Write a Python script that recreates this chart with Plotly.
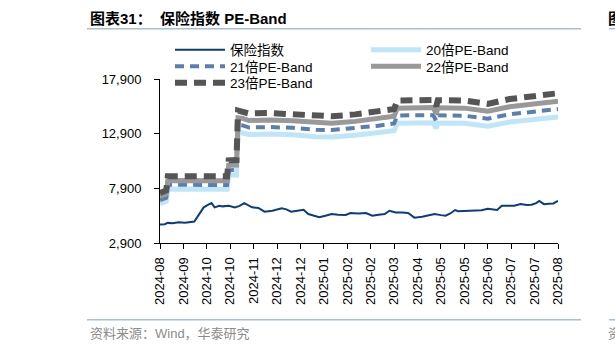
import plotly.graph_objects as go

# ---- data ----
TICK_LABELS = ["2024-08", "2024-09", "2024-10", "2024-10", "2024-11", "2024-12",
               "2024-12", "2025-01", "2025-02", "2025-02", "2025-03", "2025-04",
               "2025-05", "2025-05", "2025-06", "2025-07", "2025-07", "2025-08"]
TICK_POS = [0, 15, 30, 45, 60, 75, 90, 105, 120, 135, 150, 165, 180, 195, 210, 225, 240, 255]

BAND_X = [0, 4, 5, 20, 35, 43, 44, 49, 50, 53, 57, 70, 85, 100, 110, 125, 140, 150, 152,
          160, 175, 177, 178, 195, 210, 224, 240, 255]
PE20 = [6500, 6700, 7830, 7850, 7800, 7820, 9100, 9120, 13050, 13000, 12820, 12860, 12800,
        12620, 12600, 12750, 12980, 13180, 13850, 13890, 13900, 13400, 13880, 13850, 13590,
        13970, 14200, 14430]
PE21 = [6825, 7035, 8222, 8243, 8190, 8211, 9555, 9576, 13703, 13650, 13461, 13503, 13440,
        13251, 13230, 13388, 13629, 13839, 14543, 14585, 14595, 14070, 14574, 14543, 14270,
        14669, 14910, 15152]
PE22 = [7150, 7370, 8613, 8635, 8580, 8602, 10010, 10032, 14355, 14300, 14102, 14146, 14080,
        13882, 13860, 14025, 14278, 14498, 15235, 15279, 15290, 14740, 15268, 15235, 14949,
        15367, 15620, 15873]
PE23 = [7475, 7705, 9005, 9028, 8970, 8993, 10465, 10488, 15008, 14950, 14743, 14789, 14720,
        14513, 14490, 14663, 14927, 15157, 15928, 15974, 15985, 15410, 15962, 15928, 15629,
        16066, 16330, 16595]

IDX_X = [0, 3, 5, 8, 12, 16, 22, 25, 28, 31, 33, 35, 38, 40, 44, 48, 51, 54, 56, 59, 63, 67,
         72, 78, 81, 84, 88, 92, 95, 99, 102, 106, 110, 114, 119, 122, 127, 132, 136, 140, 144,
         147, 151, 155, 159, 163, 168, 173, 176, 180, 183, 186, 189, 191, 196, 202, 206, 210,
         213, 216, 219, 223, 227, 231, 235, 238, 241, 243, 246, 249, 252, 255]
IDX_V = [4600, 4620, 4740, 4700, 4800, 4760, 4860, 5500, 6160, 6400, 6550, 6160, 6300, 6250,
         6300, 6160, 6300, 6550, 6380, 6160, 6100, 5760, 5850, 6070, 5980, 5760, 5850, 5940,
         5550, 5400, 5260, 5400, 5550, 5480, 5460, 5640, 5600, 5640, 5400, 5480, 5550, 5850,
         5700, 5680, 5640, 5220, 5300, 5460, 5550, 5450, 5400, 5600, 5915, 5800, 5820, 5850,
         5900, 6030, 5980, 5915, 6300, 6280, 6300, 6456, 6380, 6400, 6550, 6754, 6456, 6500,
         6520, 6754]

Y_TICKS = [2900, 7900, 12900, 17900]

# ---- layout helpers ----
W, H = 615, 351
L, R, T, B = 160, 57, 79, 107.5
PW, PH = W - L - R, H - T - B


def px(x):
    return (x - L) / PW


def py(y):
    return (H - B - y) / PH


LATIN = "Liberation Sans, Arial, Noto Sans CJK SC"
fig = go.Figure()

fig.add_trace(go.Scatter(x=BAND_X, y=PE20, mode="lines", name="20倍PE-Band", legend="legend",
                         legendrank=2, line=dict(color="#bfe6f8", width=5)))
fig.add_trace(go.Scatter(x=BAND_X, y=PE21, mode="lines", name="21倍PE-Band", legend="legend2",
                         legendrank=1, line=dict(color="#5a7fae", width=4, dash="9px,6px")))
fig.add_trace(go.Scatter(x=BAND_X, y=PE22, mode="lines", name="22倍PE-Band", legend="legend2",
                         legendrank=2, line=dict(color="#999999", width=5)))
fig.add_trace(go.Scatter(x=BAND_X, y=PE23, mode="lines", name="23倍PE-Band", legend="legend3",
                         legendrank=1, line=dict(color="#555555", width=6, dash="12px,7px")))
fig.add_trace(go.Scatter(x=IDX_X, y=IDX_V, mode="lines", name="保险指数", legend="legend",
                         legendrank=1, line=dict(color="#0a3d7f", width=2)))


def leg(ypix):
    return dict(orientation="h", x=px(170), xanchor="left", y=py(ypix), yanchor="middle",
                entrywidth=131, entrywidthmode="pixels", itemwidth=50,
                bgcolor="rgba(0,0,0,0)", font=dict(size=13.5, family=LATIN),
                traceorder="normal")


fig.update_layout(
    width=W, height=H,
    margin=dict(l=L, r=R, t=T, b=B, pad=0, autoexpand=False),
    paper_bgcolor="white", plot_bgcolor="white",
    font=dict(family=LATIN, size=13, color="#000000"),
    showlegend=True,
    legend=leg(50), legend2=leg(66.5), legend3=leg(83),
    xaxis=dict(range=[0, 255], tickmode="array", tickvals=TICK_POS, ticktext=TICK_LABELS,
               tickangle=-90, ticks="outside", ticklen=5, tickcolor="#000", showline=True,
               linecolor="#000", linewidth=1, showgrid=False, zeroline=False,
               tickfont=dict(size=13, family=LATIN), ticklabelstandoff=3),
    yaxis=dict(range=[2900, 17900], tickmode="array", tickvals=Y_TICKS,
               ticktext=[f"{v:,}" for v in Y_TICKS], ticks="outside", ticklen=5,
               tickcolor="#000", showline=True, linecolor="#000", linewidth=1,
               showgrid=False, zeroline=False, tickfont=dict(size=13, family=LATIN),
               ticklabelstandoff=10),
)

# title and footer
fig.add_annotation(xref="paper", yref="paper", x=px(88), y=py(18), xanchor="left",
                   yanchor="middle", showarrow=False,
                   text="<b>图表31：  保险指数 PE-Band</b>",
                   font=dict(size=15, family=LATIN, color="#000"))
fig.add_annotation(xref="paper", yref="paper", x=px(88), y=py(334), xanchor="left",
                   yanchor="middle", showarrow=False,
                   text="资料来源：Wind，华泰研究",
                   font=dict(size=13, family=LATIN, color="#8c8c8c"))
fig.add_annotation(xref="paper", yref="paper", x=px(606), y=py(18), xanchor="left",
                   yanchor="middle", showarrow=False, text="<b>图</b>",
                   font=dict(size=15, family=LATIN, color="#000"))
fig.add_annotation(xref="paper", yref="paper", x=px(606), y=py(334), xanchor="left",
                   yanchor="middle", showarrow=False, text="资",
                   font=dict(size=13, family=LATIN, color="#8c8c8c"))

for x0, x1 in [(87, 581), (609, 615)]:
    fig.add_shape(type="line", xref="paper", yref="paper", x0=px(x0), x1=px(x1),
                  y0=py(28.5), y1=py(28.5), line=dict(color="#a9bdd6", width=1.5))
    fig.add_shape(type="line", xref="paper", yref="paper", x0=px(x0), x1=px(x1),
                  y0=py(320.5), y1=py(320.5), line=dict(color="#a9bdd6", width=1.5))

fig.write_html("out.html")
